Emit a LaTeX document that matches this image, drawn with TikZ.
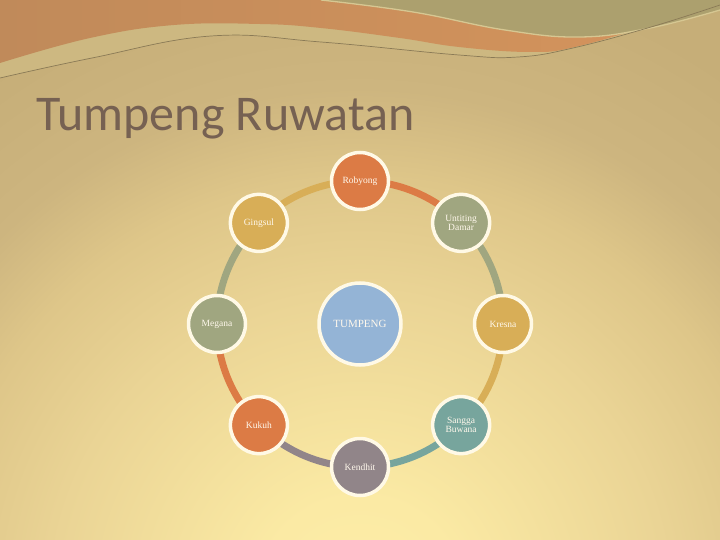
\documentclass[tikz,border=0pt]{standalone}
\usepackage{fontspec}
\setmainfont{Liberation Serif}
\newfontfamily\titlefont{Carlito}
\usetikzlibrary{calc}
\definecolor{bgA}{HTML}{FDEDA8}
\definecolor{bgA2}{HTML}{FBEAA4}
\definecolor{bgB}{HTML}{EAD495}
\definecolor{bgB2}{HTML}{DEC689}
\definecolor{bgC2}{HTML}{CDB57F}
\definecolor{bgC}{HTML}{C6AE78}
\definecolor{bandlight}{HTML}{CDB881}
\definecolor{topL}{HTML}{C08A5A}
\definecolor{topM}{HTML}{BC8757}
\definecolor{topR}{HTML}{D6945C}
\definecolor{topgreen}{HTML}{ACA06E}
\definecolor{paleedge}{HTML}{D6C792}
\definecolor{thinline}{HTML}{8A7A56}
\definecolor{titlecol}{HTML}{766152}
\definecolor{corange}{HTML}{DC7B45}
\definecolor{cyellow}{HTML}{D8AE57}
\definecolor{cgreen}{HTML}{A0A680}
\definecolor{cteal}{HTML}{77A59D}
\definecolor{cgray}{HTML}{918589}
\definecolor{cblue}{HTML}{94B4D6}
\definecolor{ringwhite}{HTML}{FFF9E6}
\definecolor{textcol}{HTML}{FFF8EC}
\pgfdeclareradialshading{bgshade}{\pgfpoint{0bp}{0bp}}{color(0bp)=(bgA); color(4bp)=(bgA2); color(12bp)=(bgB); color(16.5bp)=(bgB2); color(20bp)=(bgC2); color(25bp)=(bgC); color(50bp)=(bgC)}
\pgfdeclarelayer{bglayer}
\pgfdeclarelayer{arclayer}
\pgfsetlayers{bglayer,arclayer,main}
\tikzset{
  circ/.style={circle, draw=ringwhite, line width=3.5pt, minimum size=57pt, inner sep=0pt,
    font=\fontsize{9.5}{9}\selectfont, text=textcol, align=center},
  bigcirc/.style={circ, minimum size=82pt, font=\fontsize{11}{12}\selectfont},
  arcline/.style={line width=7pt, bend left=22.5, looseness=0.885}
}
\begin{document}
\begin{tikzpicture}[x=1pt,y=1pt]
\useasboundingbox (0,0) rectangle (720,-540);
\begin{pgfonlayer}{bglayer}
\fill[bgC] (0,0) rectangle (720,-540);
\begin{scope}
\clip (0,0) rectangle (720,-540);
\shade[shading=bgshade] (360,-600) circle (640);
\fill[bandlight] (0,0) -- plot[smooth, tension=0.7] coordinates {(0,-78) (92,-58) (211,-36) (321,-42) (459,-55) (518,-57) (573,-48) (651,-27) (720,-5)} -- (720,0) -- cycle;
\shade[left color=topL, middle color=topM, right color=topR] (0,0) -- plot[smooth, tension=0.7] coordinates {(0,-63) (90,-38) (174,-25) (260,-24) (321,-28) (400,-38) (459,-47) (530,-52) (575,-47) (651,-25) (720,-3)} -- (720,0) -- cycle;
\fill[topgreen] (321,0) -- plot[smooth, tension=0.7] coordinates {(321,0) (413,-12) (505,-30) (580,-37) (650,-28) (720,-10)} -- (720,0) -- cycle;
\draw[paleedge, line width=1.3pt] plot[smooth, tension=0.7] coordinates {(321,0) (413,-12) (505,-30) (580,-37) (650,-28) (720,-10)};
\draw[thinline, line width=0.7pt] plot[smooth, tension=0.7] coordinates {(0,-78) (92,-58) (211,-36) (321,-42) (459,-55) (518,-57) (573,-48) (651,-27) (720,-5)};
\end{scope}
\end{pgfonlayer}

\node[anchor=base west, font=\titlefont\fontsize{50}{60}\selectfont, text=titlecol, inner sep=0pt] (title) at (36,-131) {Tumpeng Ruwatan};

\coordinate (C) at (360,-324);
\node[bigcirc, fill=cblue] (tum) at (C) {TUMPENG};
\node[circ, fill=corange] (rob) at ($(C)+(90:143)$) {Robyong};
\node[circ, fill=cgreen] (unt) at ($(C)+(45:143)$) {Untiting\\Damar};
\node[circ, fill=cyellow] (kre) at ($(C)+(0:143)$) {Kresna};
\node[circ, fill=cteal] (san) at ($(C)+(-45:143)$) {Sangga\\Buwana};
\node[circ, fill=cgray] (ken) at ($(C)+(-90:143)$) {Kendhit};
\node[circ, fill=corange] (kuk) at ($(C)+(-135:143)$) {Kukuh};
\node[circ, fill=cgreen] (meg) at ($(C)+(180:143)$) {Megana};
\node[circ, fill=cyellow] (gin) at ($(C)+(135:143)$) {Gingsul};

\begin{pgfonlayer}{arclayer}
\draw[arcline, corange] (rob.center) to (unt.center);
\draw[arcline, cgreen] (unt.center) to (kre.center);
\draw[arcline, cyellow] (kre.center) to (san.center);
\draw[arcline, cteal] (san.center) to (ken.center);
\draw[arcline, cgray] (ken.center) to (kuk.center);
\draw[arcline, corange] (kuk.center) to (meg.center);
\draw[arcline, cgreen] (meg.center) to (gin.center);
\draw[arcline, cyellow] (gin.center) to (rob.center);
\end{pgfonlayer}
\end{tikzpicture}
\end{document}
